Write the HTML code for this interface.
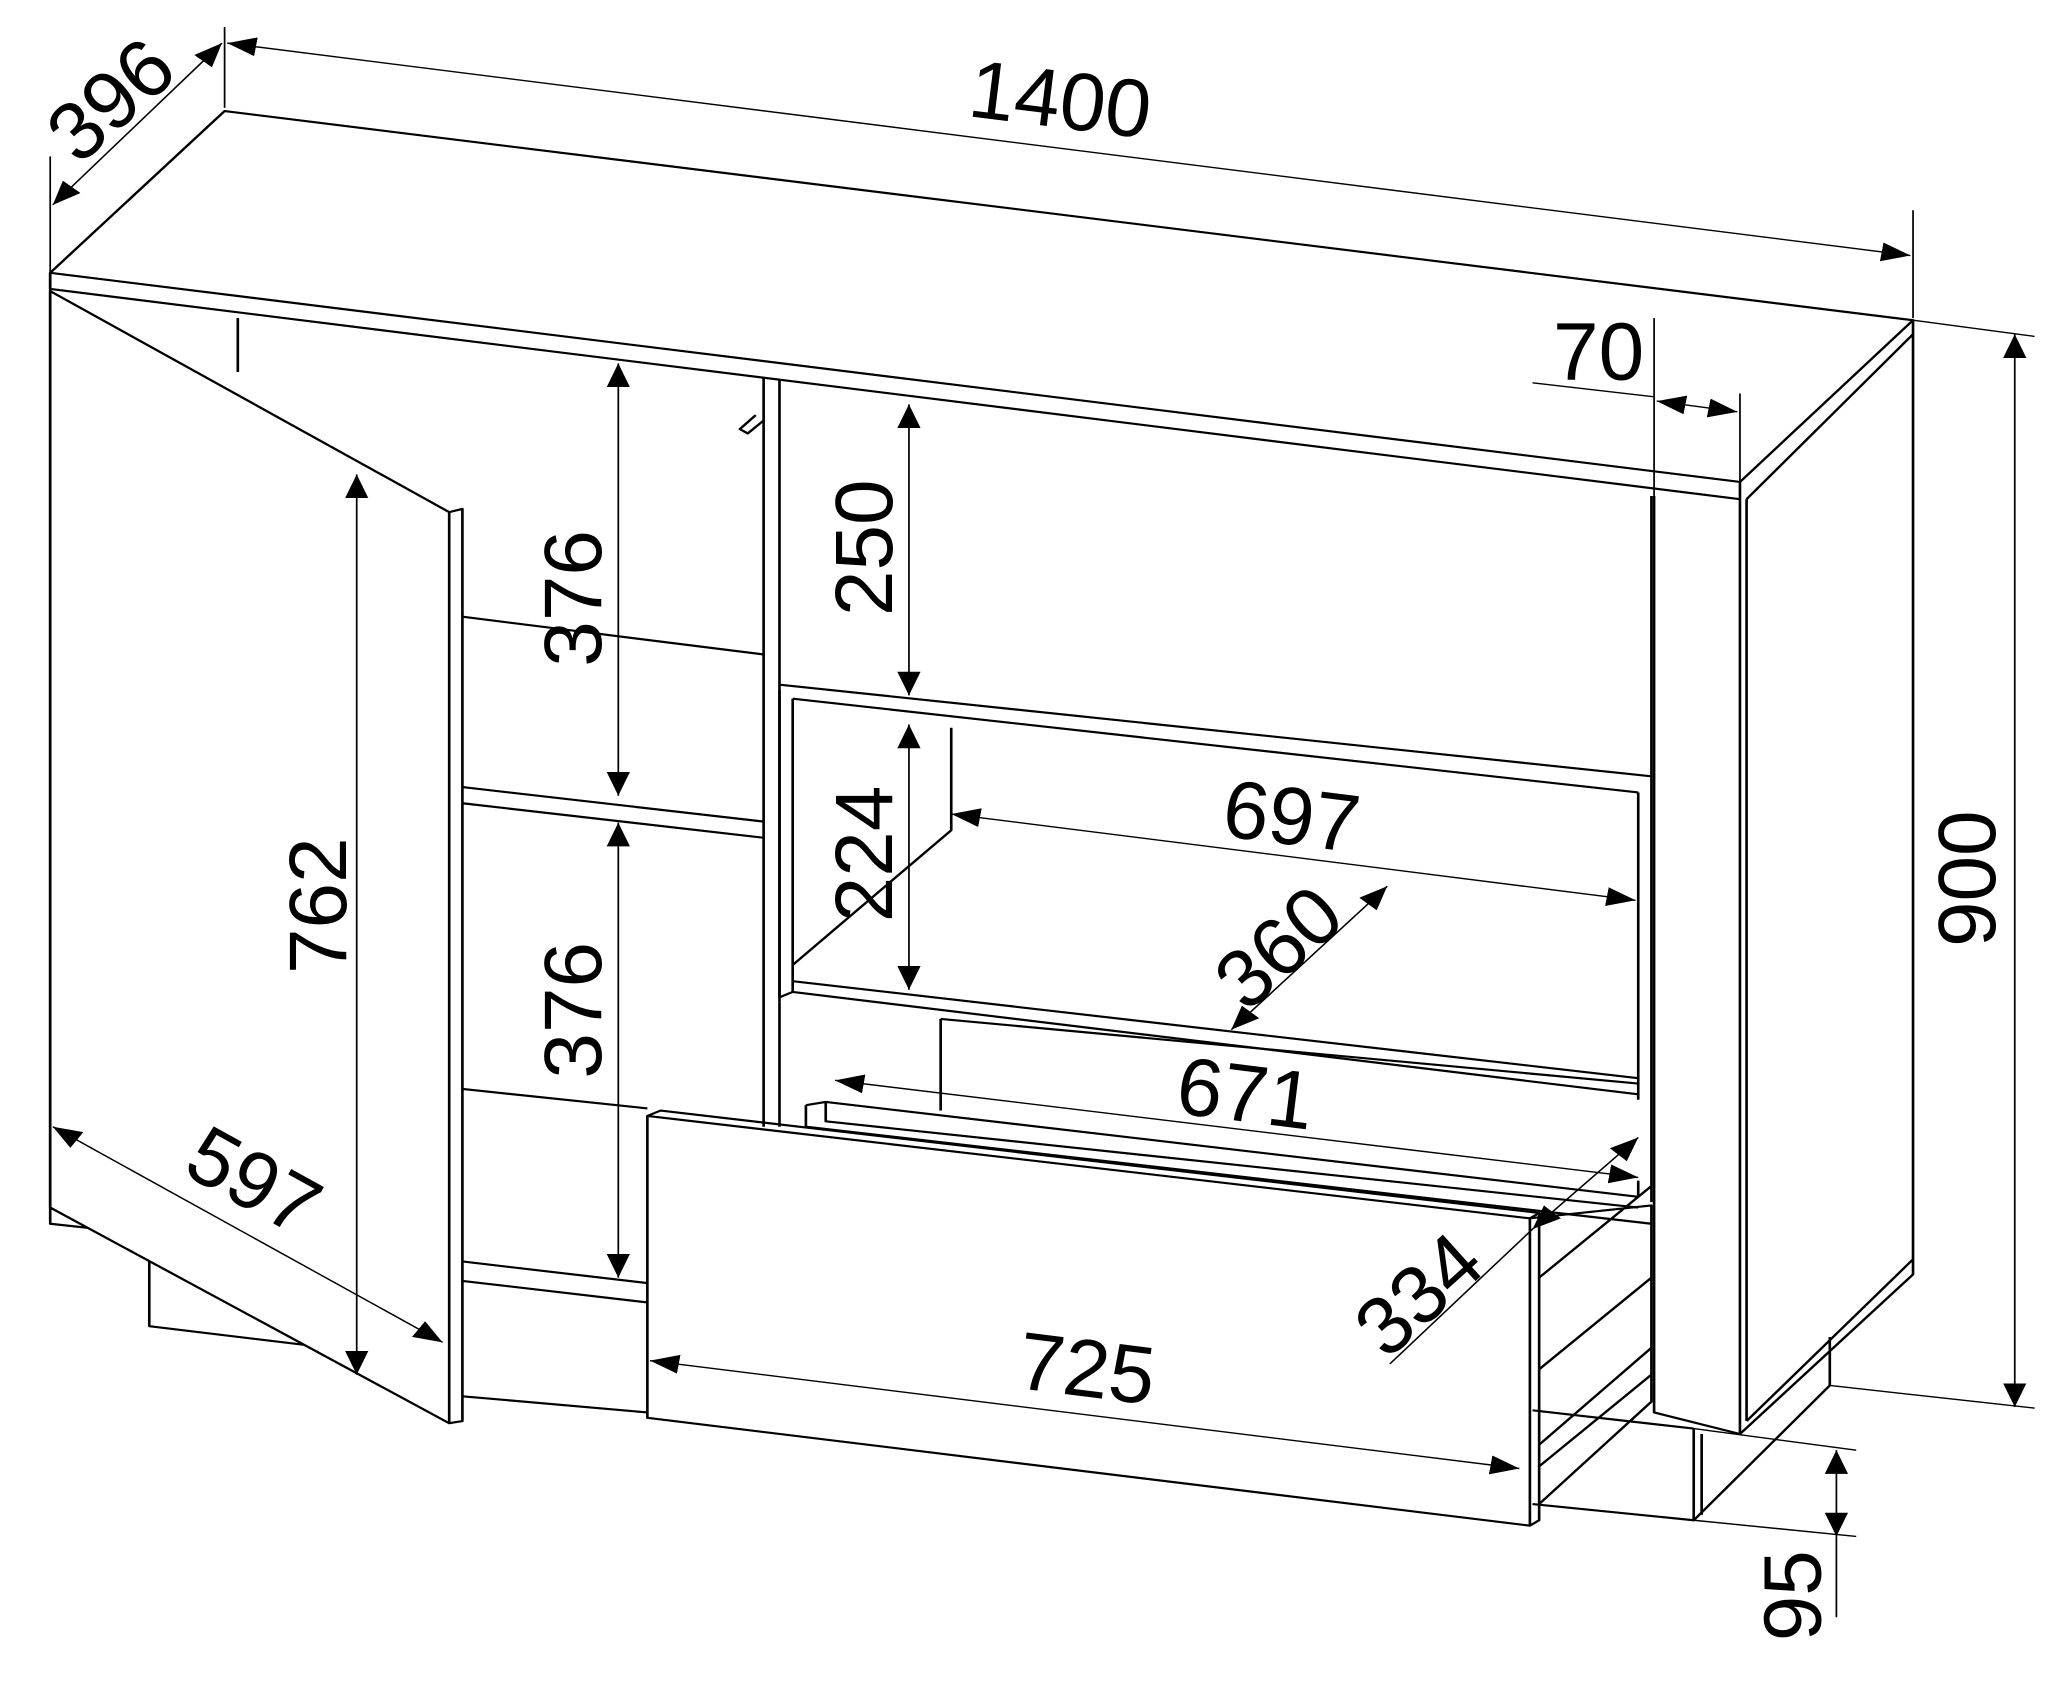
<!DOCTYPE html>
<html><head><meta charset="utf-8"><style>html,body{margin:0;padding:0;background:#fff}svg{display:block}</style></head><body>
<svg width="2061" height="1696" viewBox="0 0 1560 1573" preserveAspectRatio="none" xmlns="http://www.w3.org/2000/svg">
<defs>
<marker id="a" viewBox="0 0 10 10" refX="10" refY="5" markerWidth="22" markerHeight="22" markerUnits="userSpaceOnUse" orient="auto-start-reverse"><path d="M0,1 L10,5 L0,9 z" fill="#000"/></marker>
</defs>
<g fill="none" stroke="#000" stroke-width="2" stroke-linejoin="round">
<path d="M38,253 L170,103 L1448,297 L1317,447 Z" fill="#fff"/>
<path d="M38,253 L38,268 L1317,463 L1317,447"/>
<path d="M1448,297 L1448,310 L1322,463"/>
<path d="M1317,463 L1317,1330 M1322,463 L1322,1318 M1448,310 L1448,1168 L1322,1318 M1317,1330 L1448,1182 L1448,1168"/>
<path d="M1252,460 L1252,1310 L1317,1330 M1385,1240 L1385,1285 L1282,1410 L1282,1325 M1288,1330 L1288,1405"/>
<path d="M1282,1325 L1160,1308 M1160,1395 L1282,1410"/>
<path d="M38,253 L38,1120 L38,1135 L113,1145 M113,1165 L113,1230 L235,1248 M350,1295 L490,1310"/>
<path d="M180,295 L180,345"/>
<path d="M38,270 L340,475 L340,1320 L38,1120 Z" fill="#fff"/>
<path d="M340,475 L350,472 L350,1318 L340,1320"/>
<path d="M350,572 L578,607 M350,730 L578,762 M350,745 L578,777 M350,1010 L490,1028 M350,1170 L490,1190 M350,1188 L490,1208"/>
<path d="M578,350 L578,1045 M590,352 L590,930"/>
<path d="M572,385 L560,398 L566,402 L578,390" />
<path d="M590,635 L1250,720 M600,648 L1240,735 M590,640 L590,925 M600,648 L600,920 M1250,460 L1250,720 M1240,735 L1240,1020 M1250,720 L1250,1115"/>
<path d="M720,675 L720,770 L600,895 M600,910 L1240,1000 M600,920 L1240,1015 M590,925 L600,920"/>
<path d="M712,945 L712,1030 M590,930 L590,1045 M712,945 L1240,1005"/>
<path d="M610,1025 L610,1045 L1250,1135 M610,1025 L625,1022 L1240,1110 L1240,1095 M625,1022 L625,1040 L1240,1120"/>
<path d="M1158,1130 L1250,1118 L1250,1300 L1165,1395 M1165,1185 L1250,1100 M1165,1270 L1250,1185 M1165,1340 L1250,1250 M1165,1360 L1250,1275"/>
<path d="M490,1035 L1158,1130 L1158,1415 L490,1315 Z" fill="#fff"/>
<path d="M490,1035 L500,1030 L1165,1125 L1165,1410 L1158,1415 M1158,1130 L1165,1125"/>
</g>
<g stroke="#000" stroke-width="1.3" fill="none">
<path d="M38,145 L38,253 M170,25 L170,100 M1448,195 L1448,295"/>
<path d="M1448,297 L1540,312 M1385,1285 L1540,1306 M1252,295 L1252,460 M1317,365 L1317,447 M1160,355 L1252,368"/>
<path d="M1282,1325 L1405,1345 M1282,1410 L1405,1425 M1390,1425 L1390,1500"/>
<path d="M1160,1140 L1052,1265"/>
</g>
<g stroke="#000" stroke-width="1.3" fill="none" marker-start="url(#a)" marker-end="url(#a)">
<line x1="40" y1="190" x2="168" y2="40"/>
<line x1="172" y1="40" x2="1446" y2="237"/>
<line x1="1525" y1="310" x2="1525" y2="1305"/>
<line x1="1254" y1="372" x2="1315" y2="382"/>
<line x1="688" y1="375" x2="688" y2="645"/>
<line x1="688" y1="672" x2="688" y2="918"/>
<line x1="468" y1="337" x2="468" y2="738"/>
<line x1="468" y1="763" x2="468" y2="1185"/>
<line x1="270" y1="440" x2="270" y2="1275"/>
<line x1="40" y1="1045" x2="335" y2="1245"/>
<line x1="720" y1="755" x2="1238" y2="835"/>
<line x1="1050" y1="822" x2="932" y2="955"/>
<line x1="632" y1="1002" x2="1240" y2="1092"/>
<line x1="1240" y1="1055" x2="1160" y2="1140"/>
<line x1="492" y1="1262" x2="1150" y2="1362"/>
<line x1="1390" y1="1345" x2="1390" y2="1425"/>
</g>
<g font-family="Liberation Sans, Arial, sans-serif" font-size="62" fill="#000" text-anchor="middle">
<text transform="translate(98,112) scale(1,1.225) rotate(-42)">396</text>
<text transform="translate(800,118) scale(1,1.225) rotate(7.1)">1400</text>
<text transform="translate(1210,352) scale(1,1.225)">70</text>
<text transform="translate(1510,815) scale(1,1.225) rotate(-90)">900</text>
<text transform="translate(675,508) scale(1,1.225) rotate(-90)">250</text>
<text transform="translate(675,792) scale(1,1.225) rotate(-90)">224</text>
<text transform="translate(455,555) scale(1,1.225) rotate(-90)">376</text>
<text transform="translate(455,937) scale(1,1.225) rotate(-90)">376</text>
<text transform="translate(262,840) scale(1,1.225) rotate(-90)">762</text>
<text transform="translate(182,1118) scale(1,1.225) rotate(28.8)">597</text>
<text transform="translate(975,783) scale(1,1.225) rotate(7.1)">697</text>
<text transform="translate(982,898) scale(1,1.225) rotate(-42)">360</text>
<text transform="translate(940,1040) scale(1,1.225) rotate(7.1)">671</text>
<text transform="translate(1088,1220) scale(1,1.225) rotate(-42)">334</text>
<text transform="translate(820,1295) scale(1,1.225) rotate(7.1)">725</text>
<text transform="translate(1378,1480) scale(1,1.225) rotate(-90)">95</text>
</g>
</svg>
</body></html>
